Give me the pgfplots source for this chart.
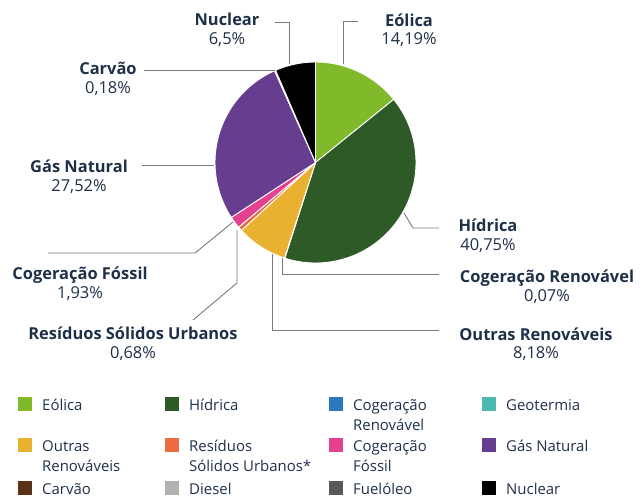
\documentclass[border=0pt]{standalone}
\usepackage{pgfplots}
\usepackage{pgfplotstable}
\pgfplotsset{compat=1.18}
\usepackage{fontspec}
\setmainfont{Open Sans}
\definecolor{navy}{HTML}{1E3048}
\definecolor{lead}{HTML}{7A7A7A}
\definecolor{cEol}{HTML}{80BA2B}
\definecolor{cHid}{HTML}{2D5A27}
\definecolor{cCogR}{HTML}{2A78BE}
\definecolor{cGeo}{HTML}{4BBAB4}
\definecolor{cOut}{HTML}{E8B12F}
\definecolor{cRes}{HTML}{EC6B40}
\definecolor{cCogF}{HTML}{E44191}
\definecolor{cGas}{HTML}{673D90}
\definecolor{cCar}{HTML}{5B3216}
\definecolor{cDie}{HTML}{B2B2B2}
\definecolor{cFue}{HTML}{575A5C}
\definecolor{cNuc}{HTML}{000000}

\pgfplotstableread{
val col
14.19 cEol
40.75 cHid
0.07 cCogR
8.18 cOut
0.68 cRes
1.93 cCogF
27.52 cGas
0.18 cCar
6.5 cNuc
}\piedata

\newcommand\lab[5]{%
  \node[anchor=base, font=\bfseries\fontsize{16.5}{19}\selectfont, text=navy] at (axis cs:#1,#2) {#4};
  \node[anchor=base, font=\fontsize{16.5}{19}\selectfont, text=navy] at (axis cs:#1,#3) {#5};}
% legend item: x of square, baseline y, colour, line 1, line 2
\newcommand\legitem[5]{%
  \fill[#3] (axis cs:#1,{#2-13}) rectangle (axis cs:{#1+14},{#2+1});
  \node[anchor=base west, inner sep=0pt, font=\fontsize{15}{20}\selectfont, text=navy] at (axis cs:{#1+24},#2) {#4};
  \node[anchor=base west, inner sep=0pt, font=\fontsize{15}{20}\selectfont, text=navy] at (axis cs:{#1+24},{#2+20}) {#5};}

\begin{document}
\begin{tikzpicture}
\begin{axis}[name=ax, width=644bp, height=498bp, scale only axis,
  xmin=0, xmax=644, ymin=0, ymax=498, y dir=reverse, hide axis, clip=false]
% pie wedges from the table
\def\startang{90}
\pgfplotstablegetrowsof{\piedata}
\pgfmathtruncatemacro\nrows{\pgfplotsretval-1}
\pgfplotsforeachungrouped \i in {0,...,\nrows}{%
  \pgfplotstablegetelem{\i}{val}\of\piedata \let\v\pgfplotsretval
  \pgfplotstablegetelem{\i}{col}\of\piedata \let\c\pgfplotsretval
  \pgfmathsetmacro\endang{\startang-3.6*\v}%
  \edef\tmp{\noexpand\fill[\c, draw=white, line width=0.9bp] (axis cs:315.5,162.5) -- ++(\startang:100.5bp) arc[start angle=\startang, end angle=\endang, radius=100.5bp] -- cycle;}%
  \tmp
  \global\let\startang\endang
}
% leader lines
\begin{scope}[draw=lead, line width=0.9bp]
\draw (axis cs:275,22) -- (axis cs:289,22) -- (axis cs:289,64);
\draw (axis cs:358,21) -- (axis cs:343,21) -- (axis cs:343,64);
\draw (axis cs:144,70) -- (axis cs:275,70);
\draw (axis cs:142,165) -- (axis cs:214,165);
\draw (axis cs:233,222) -- (axis cs:195,253) -- (axis cs:48,253);
\draw (axis cs:237,230) -- (axis cs:237,283) -- (axis cs:193,320);
\draw (axis cs:272,254) -- (axis cs:272,330) -- (axis cs:439,330);
\draw (axis cs:282,258) -- (axis cs:282,274) -- (axis cs:439,274);
\draw (axis cs:404,213) -- (axis cs:413,228) -- (axis cs:439,228);
\end{scope}
% labels
\lab{227}{26}{45}{Nuclear}{6,5\%}
\lab{409}{27}{45}{Eólica}{14,19\%}
\lab{108}{75}{94}{Carvão}{0,18\%}
\lab{79}{172}{191}{Gás Natural}{27,52\%}
\lab{80}{279}{298}{Cogeração Fóssil}{1,93\%}
\lab{133}{339}{358}{Resíduos Sólidos Urbanos}{0,68\%}
\lab{488}{231}{250}{Hídrica}{40,75\%}
\lab{547}{282}{301}{Cogeração Renovável}{0,07\%}
\lab{536}{340}{358}{Outras Renováveis}{8,18\%}
% legend
\legitem{18}{410}{cEol}{Eólica}{}
\legitem{165}{410}{cHid}{Hídrica}{}
\legitem{329}{410}{cCogR}{Cogeração}{Renovável}
\legitem{482}{410}{cGeo}{Geotermia}{}
\legitem{18}{451}{cOut}{Outras}{Renováveis}
\legitem{165}{451}{cRes}{Resíduos}{Sólidos Urbanos*}
\legitem{329}{451}{cCogF}{Cogeração}{Fóssil}
\legitem{482}{451}{cGas}{Gás Natural}{}
\legitem{18}{494}{cCar}{Carvão}{}
\legitem{165}{494}{cDie}{Diesel}{}
\legitem{329}{494}{cFue}{Fuelóleo}{}
\legitem{482}{494}{cNuc}{Nuclear}{}
\end{axis}
\pgfresetboundingbox
\path[use as bounding box] (ax.south west) rectangle (ax.north east);
\end{tikzpicture}
\end{document}
